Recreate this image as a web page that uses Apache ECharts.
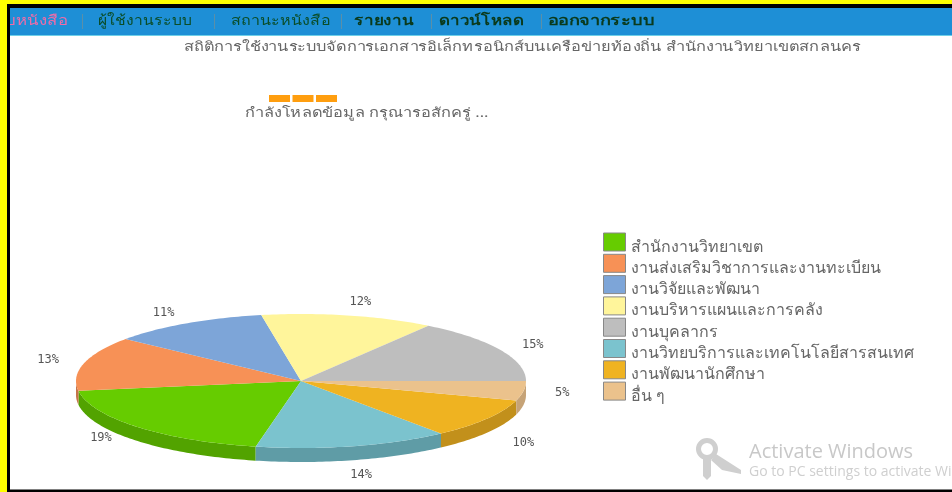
<!DOCTYPE html>
<html><head><meta charset="utf-8">
<style>html,body{margin:0;padding:0;background:#fff}#c{width:952px;height:492px}</style>
<script src="https://cdn.jsdelivr.net/npm/echarts@6/dist/echarts.min.js"></script></head>
<body><div id="c"></div>
<script>
const categories=['สำนักงานวิทยาเขต','งานส่งเสริมวิชาการและงานทะเบียน','งานวิจัยและพัฒนา','งานบริหารแผนและการคลัง','งานบุคลากร','งานวิทยบริการและเทคโนโลยีสารสนเทศ','งานพัฒนานักศึกษา','อื่น ๆ'];
const values=[19.4,13.1,11.4,12.4,15.4,13.9,9.6,4.7];
const percentLabels=['19%','13%','11%','12%','15%','14%','10%','5%'];
const colors=['#66CC00','#F79156','#7DA5D8','#FFF59B','#BEBEBE','#7BC3CE','#EFB321','#EBC28C'];
const sideColors=['#52A300','#C5744A','#6484AD','#CCC47C','#989898','#5F9CA6','#C2901B','#C6A377'];
const labelNudges=[[-9,-9],[1,0],[-3,2],[4,0],[-1,2],[-1,5],[5,16],[1,0]];
const drawOrder=[7,6,5,0,1,2,3,4]; // clockwise from the 3 o'clock position
const navItems=[['บหนังสือ',5,'#F06CA8','normal',1.2],['ผู้ใช้งานระบบ',98,'#0A4D28','normal',1.12],['สถานะหนังสือ',231,'#0A4D28','normal',1.15],['รายงาน',354,'#0A3A1C','bold',1.22],['ดาวน์โหลด',439,'#0A3A1C','bold',1.21],['ออกจากระบบ',548,'#0A3A1C','bold',1.3]];
const navSeparators=[82,214,341,431,541];
const titleText='สถิติการใช้งานระบบจัดการเอกสารอิเล็กทรอนิกส์บนเครือข่ายท้องถิ่น สำนักงานวิทยาเขตสกลนคร';
const loadingText='กำลังโหลดข้อมูล กรุณารอสักครู่ ...';

const CX=301,CY=381,RX=225,RY=67,DEPTH=14,LRX=263,LRY=81;
const FONT='"Noto Sans","DejaVu Sans",sans-serif';
const total=values.reduce((a,b)=>a+b,0);
const starts={};let acc=0;
drawOrder.forEach(i=>{starts[i]=acc;acc+=values[i]/total*360;});
function pt(deg,dy){const t=deg*Math.PI/180;return [CX+RX*Math.cos(t),CY+RY*Math.sin(t)+(dy||0)];}

function renderSlice(params,api){
  const i=params.seriesIndex;
  const a0=starts[i],a1=a0+api.value(0)/total*360;
  const top=[[CX,CY]];
  for(let a=a0;a<a1;a+=1)top.push(pt(a));top.push(pt(a1));
  const children=[];
  const s0=Math.max(a0,0),s1=Math.min(a1,180);
  if(s1>s0){
    const side=[];
    for(let a=s0;a<s1;a+=1)side.push(pt(a));side.push(pt(s1));
    for(let a=s1;a>s0;a-=1)side.push(pt(a,DEPTH));side.push(pt(s0,DEPTH));
    children.push({type:'polygon',shape:{points:side},style:{fill:sideColors[i]}});
  }
  children.push({type:'polygon',shape:{points:top},style:{fill:colors[i]}});
  const m=(a0+a1)/2*Math.PI/180;
  const lx=CX+LRX*Math.cos(m)+labelNudges[i][0],ly=CY+LRY*Math.sin(m)+(Math.sin(m)>0.6?10:0)+labelNudges[i][1];
  children.push({type:'text',style:{x:lx,y:ly,text:percentLabels[i],fill:'#555',font:'12px "DejaVu Sans Mono",monospace',align:'center',verticalAlign:'middle'}});
  return {type:'group',children};
}

function wideText(text,x,y,size,fill,weight,sx,z){
  return {type:'text',x:x,y:y,scaleX:sx,z:z||1,style:{x:0,y:0,text:text,fill:fill,font:(weight||'normal')+' '+size+'px '+FONT,verticalAlign:'middle'}};
}
const graphics=[
  {type:'rect',shape:{x:0,y:0,width:952,height:492},style:{fill:'#000'},z:-10},
  {type:'rect',shape:{x:10,y:8,width:942,height:481.5},style:{fill:'#fff'},z:-9},
  {type:'rect',z:5,shape:{x:0,y:0,width:952,height:4},style:{fill:'#FFFF00'}},
  {type:'rect',z:5,shape:{x:7,y:4,width:3,height:488},style:{fill:'#000'}},
  {type:'rect',z:5,shape:{x:0,y:0,width:7,height:492},style:{fill:'#FFFF00'}},
  {type:'rect',shape:{x:10,y:8,width:942,height:27},style:{fill:'#1E8FD6'},z:-7},
  {type:'rect',shape:{x:10,y:35,width:942,height:1},style:{fill:'#6FD0E8'},z:-7},
  {type:'rect',shape:{x:269,y:95,width:21,height:7},style:{fill:'#FF9E0F'}},
  {type:'rect',shape:{x:292.5,y:95,width:21,height:7},style:{fill:'#FF9E0F'}},
  {type:'rect',shape:{x:316,y:95,width:21,height:7},style:{fill:'#FF9E0F'}},
  wideText(loadingText,245,113,13,'#666','normal',1.26),
  wideText(titleText,184,47,13,'#666','normal',1.26),
  // watermark
  {type:'circle',shape:{cx:707,cy:449,r:8.5},style:{fill:'none',stroke:'#CFCFCF',lineWidth:5}},
  {type:'polygon',shape:{points:[[703,458],[711,458],[711,476],[707,480],[703,476]]},style:{fill:'#CFCFCF'}},
  {type:'polygon',shape:{points:[[716,454],[741,470],[741,474],[722,470],[711,460]]},style:{fill:'#CFCFCF'}},
  {type:'text',style:{x:749,y:452,text:'Activate Windows',fill:'#C8C8C8',font:'20px "Open Sans",sans-serif',verticalAlign:'middle'}},
  {type:'text',style:{x:749,y:472,text:'Go to PC settings to activate Windows.',fill:'#CFCFCF',font:'14px "Open Sans",sans-serif',verticalAlign:'middle'}}
];
navItems.forEach(n=>graphics.push(wideText(n[0],n[1],21,14,n[2],n[3],n[4])));
navSeparators.forEach(x=>graphics.push({type:'rect',z:1,shape:{x:x,y:14,width:1,height:15},style:{fill:'#5A8FA8'}}));

const chart=echarts.init(document.getElementById('c'),null,{renderer:'canvas'});
chart.setOption({
  animation:false,
  graphic:graphics,
  legend:{orient:'vertical',left:598,top:224,itemWidth:22,itemHeight:18,itemGap:-4.7,selectedMode:false,
    data:categories.map((name,i)=>({name,icon:'rect',itemStyle:{color:colors[i],borderColor:'#888',borderWidth:1}})),
    formatter:name=>'{t|'+name+'}',
    textStyle:{color:'#666',fontSize:16,fontFamily:FONT,
      rich:{t:{color:'#666',fontSize:16,fontFamily:FONT,lineHeight:18,padding:[10,0,0,0]}}}},
  series:categories.map((name,i)=>({type:'custom',name,coordinateSystem:'none',renderItem:renderSlice,data:[[values[i]]],itemStyle:{color:colors[i]},silent:true}))
});
</script></body></html>
